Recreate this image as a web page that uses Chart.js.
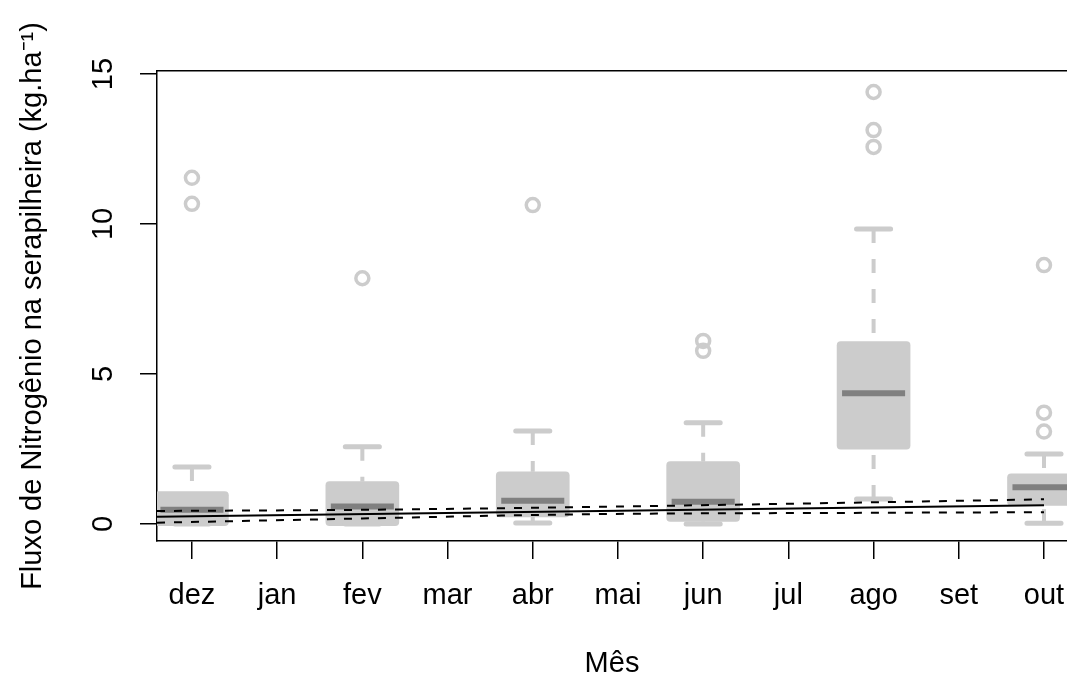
<!DOCTYPE html>
<html>
<head>
<meta charset="utf-8">
<script src="https://cdn.jsdelivr.net/npm/chart.js@4/dist/chart.umd.min.js"></script>
<style>
  html, body { margin: 0; padding: 0; background: #fff; overflow: hidden; }
  #wrap { position: relative; width: 1067px; height: 677px; }
</style>
</head>
<body>
<div id="wrap"><canvas id="myChart"></canvas></div>
<script>
// months on the x axis (0 = dez ... 10 = out)
const months = ['dez', 'jan', 'fev', 'mar', 'abr', 'mai', 'jun', 'jul', 'ago', 'set', 'out'];
const yTicks = [0, 5, 10, 15];

// boxplot statistics, one entry per sampled month
const boxPos = [0, 2, 4, 6, 8, 10];
const lowWhisker = [0.0, 0.0, 0.03, 0.0, 0.83, 0.02];
const q1 = [-0.06, -0.06, 0.23, 0.08, 2.49, 0.62];
const medians = [0.47, 0.58, 0.77, 0.74, 4.36, 1.22];
const q3 = [1.08, 1.41, 1.74, 2.08, 6.08, 1.67];
const highWhisker = [1.9, 2.57, 3.1, 3.37, 9.83, 2.33];

// outliers
const outX = [0, 0, 2, 4, 6, 6, 8, 8, 8, 10, 10, 10];
const outY = [11.54, 10.67, 8.19, 10.63, 6.1, 5.77, 14.4, 13.13, 12.57, 8.63, 3.71, 3.08];

// fitted line and confidence band
const fitX = [-0.41, 10];
const fitY = [0.24, 0.62];
const bandX = [-0.41, 2, 4.55, 8, 10];
const bandUp = [0.43, 0.47, 0.56, 0.72, 0.82];
const bandLow = [0.04, 0.18, 0.32, 0.37, 0.39];

const BOX = '#cccccc';
const MED = '#808080';
const FONT = {family: 'Liberation Sans, Arial, sans-serif', size: 29};

// segments separated by null points
function segs(list) {
    const out = [];
    list.forEach(s => { out.push(s[0], s[1], {x: s[0].x, y: null}); });
    return out;
}

const medianPts = segs(boxPos.map((p, i) => [{x: p - 0.37, y: medians[i]}, {x: p + 0.37, y: medians[i]}]));
const capPts = segs(boxPos.flatMap((p, i) => [
    [{x: p - 0.2, y: highWhisker[i]}, {x: p + 0.2, y: highWhisker[i]}],
    [{x: p - 0.2, y: lowWhisker[i]}, {x: p + 0.2, y: lowWhisker[i]}]
]));
const whiskerPts = segs(boxPos.flatMap((p, i) => [
    [{x: p, y: highWhisker[i]}, {x: p, y: q3[i]}],
    [{x: p, y: lowWhisker[i]}, {x: p, y: q1[i]}]
]));

const rotatedYLabels = {
    id: 'rotatedYLabels',
    afterDraw(chart) {
        const ctx = chart.ctx;
        const y = chart.scales.y;
        ctx.save();
        ctx.fillStyle = '#000';
        ctx.font = FONT.size + 'px ' + FONT.family;
        ctx.textAlign = 'center';
        ctx.textBaseline = 'middle';
        yTicks.forEach(v => {
            ctx.save();
            ctx.translate(104, y.getPixelForValue(v));
            ctx.rotate(-Math.PI / 2);
            ctx.fillText(String(v), 0, 0);
            ctx.restore();
        });
        ctx.restore();
    }
};

const CHART = document.getElementById('myChart');
new Chart(CHART, {
    type: 'bar',
    plugins: [rotatedYLabels],
    data: {
        datasets: [
            {
                type: 'line', order: 0,
                data: fitX.map((x, i) => ({x: x, y: fitY[i]})),
                borderColor: '#000', borderWidth: 2, pointRadius: 0
            },
            {
                type: 'line', order: 0,
                data: bandX.map((x, i) => ({x: x, y: bandUp[i]})),
                borderColor: '#000', borderWidth: 2, borderDash: [8, 9],
                pointRadius: 0, cubicInterpolationMode: 'monotone'
            },
            {
                type: 'line', order: 0,
                data: bandX.map((x, i) => ({x: x, y: bandLow[i]})),
                borderColor: '#000', borderWidth: 2, borderDash: [8, 9],
                pointRadius: 0, cubicInterpolationMode: 'monotone'
            },
            {
                type: 'line', order: 1, data: medianPts,
                borderColor: MED, borderWidth: 6, borderCapStyle: 'butt',
                pointRadius: 0, spanGaps: false
            },
            {
                type: 'line', order: 2, data: capPts,
                borderColor: BOX, borderWidth: 5, borderCapStyle: 'round',
                pointRadius: 0, spanGaps: false
            },
            {
                type: 'line', order: 3, data: whiskerPts,
                borderColor: BOX, borderWidth: 4, borderDash: [14, 16],
                pointRadius: 0, spanGaps: false
            },
            {
                type: 'scatter', order: 4,
                data: outX.map((x, i) => ({x: x, y: outY[i]})),
                pointStyle: 'circle', pointRadius: 6.5, borderWidth: 3.5,
                borderColor: BOX, backgroundColor: 'rgba(255,255,255,0)'
            },
            {
                type: 'bar', order: 5,
                data: boxPos.map((x, i) => ({x: x, y: [q1[i], q3[i]]})),
                backgroundColor: BOX, borderWidth: 0, borderSkipped: false,
                borderRadius: 4, barThickness: 73
            }
        ]
    },
    options: {
        responsive: true,
        maintainAspectRatio: false,
        animation: false,
        layout: {autoPadding: false, padding: {top: 71, right: 0, bottom: 0, left: 0}},
        plugins: {
            legend: {display: false},
            tooltip: {enabled: false}
        },
        scales: {
            x: {
                type: 'linear',
                offset: false,
                min: -0.41,
                max: 10.27,
                afterBuildTicks: s => { s.ticks = months.map((m, i) => ({value: i})); },
                afterFit: s => { s.height = 136; s.paddingRight = 0; s.paddingLeft = 0; },
                ticks: {
                    callback: v => months[v],
                    color: '#000', font: FONT, padding: 20,
                    maxRotation: 0, autoSkip: false
                },
                grid: {offset: false, drawOnChartArea: false, color: '#000', lineWidth: 1.5, tickLength: 18},
                border: {display: true, color: '#000', width: 1.5},
                title: {
                    display: true, text: 'Mês', color: '#000',
                    font: {family: FONT.family, size: 29, lineHeight: 0.9},
                    padding: {top: 0, bottom: 0}
                }
            },
            x2: {
                type: 'linear',
                position: 'top',
                offset: false,
                min: -0.41,
                max: 10.27,
                afterFit: s => { s.height = 0; },
                ticks: {display: false},
                grid: {display: false},
                border: {display: true, color: '#000', width: 1.5}
            },
            y: {
                type: 'linear',
                min: -0.57,
                max: 15.1,
                afterBuildTicks: s => { s.ticks = yTicks.map(v => ({value: v})); },
                afterFit: s => { s.width = 157; s.paddingTop = 0; s.paddingBottom = 0; },
                ticks: {display: false},
                grid: {drawOnChartArea: false, color: '#000', lineWidth: 1.5, tickLength: 17},
                border: {display: true, color: '#000', width: 1.5},
                title: {
                    display: true, text: 'Fluxo de Nitrogênio na serapilheira (kg.ha⁻¹)', color: '#000',
                    font: {family: FONT.family, size: 29, lineHeight: 1},
                    padding: {top: 18, bottom: 0}
                }
            }
        }
    }
});
</script>
</body>
</html>
